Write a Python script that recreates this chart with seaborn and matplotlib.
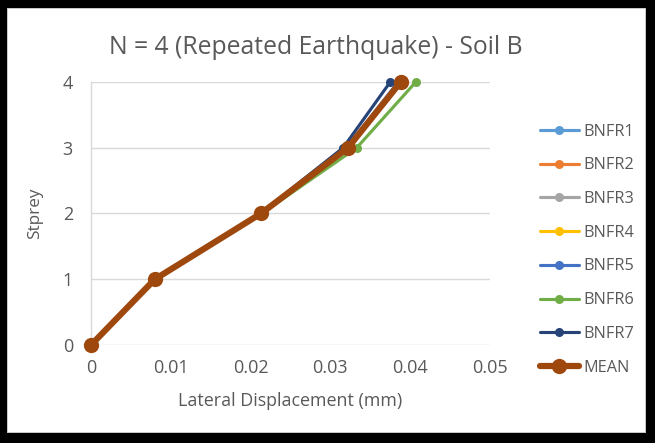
import matplotlib
matplotlib.use("Agg")
import matplotlib.pyplot as plt
import seaborn as sns
import pandas as pd
from matplotlib.patches import Rectangle
from matplotlib.lines import Line2D

stories = [0, 1, 2, 3, 4]
series_names = ["BNFR1", "BNFR2", "BNFR3", "BNFR4", "BNFR5", "BNFR6", "BNFR7", "MEAN"]
BNFR1 = [0, 0.0080, 0.0213, 0.0322, 0.0388]
BNFR2 = [0, 0.0080, 0.0213, 0.0321, 0.0386]
BNFR3 = [0, 0.0080, 0.0213, 0.0323, 0.0390]
BNFR4 = [0, 0.0080, 0.0213, 0.0322, 0.0389]
BNFR5 = [0, 0.0080, 0.0213, 0.0320, 0.0385]
BNFR6 = [0, 0.0081, 0.0214, 0.0333, 0.0407]
BNFR7 = [0, 0.0080, 0.0212, 0.0316, 0.0375]
MEAN = [0, 0.0080, 0.0213, 0.0322, 0.0388]
values = [BNFR1, BNFR2, BNFR3, BNFR4, BNFR5, BNFR6, BNFR7, MEAN]
colors = ["#5B9BD5", "#ED7D31", "#A5A5A5", "#FFC000", "#4472C4", "#70AD47", "#264478", "#9E480E"]
x_ticks = [0, 0.01, 0.02, 0.03, 0.04, 0.05]
x_tick_labels = ["0", "0.01", "0.02", "0.03", "0.04", "0.05"]
y_ticks = [0, 1, 2, 3, 4]

rows = []
for name, vals in zip(series_names, values):
    for s, v in zip(stories, vals):
        rows.append({"series": name, "story": s, "disp": v})
df = pd.DataFrame(rows)

sns.set_theme(style="white")
plt.rcParams["font.family"] = ["Open Sans", "DejaVu Sans"]

W, H = 655, 443
fig = plt.figure(figsize=(W / 100, H / 100), dpi=100)
ax = fig.add_axes([91/W, 1-345/H, (490-91)/W, (345-82)/H])

txt = "#595959"
palette = dict(zip(series_names, colors))
for name in series_names:
    sub = df[df.series == name]
    is_mean = name == "MEAN"
    sns.lineplot(data=sub, x="disp", y="story", sort=False, ax=ax,
                 color=palette[name], linewidth=4.5 if is_mean else 2.25,
                 marker="o", markersize=11 if is_mean else 6.5,
                 markeredgewidth=0, legend=False, zorder=5 if is_mean else 3)

ax.set_xlim(0, 0.05)
ax.set_ylim(0, 4)
ax.set_xticks(x_ticks)
ax.set_xticklabels(x_tick_labels)
ax.set_yticks(y_ticks)
ax.grid(axis="y", color="#D9D9D9", linewidth=1)
ax.grid(axis="x", visible=False)
for sp in ["top", "right", "bottom"]:
    ax.spines[sp].set_visible(False)
ax.spines["left"].set_color("#D9D9D9")
ax.spines["left"].set_linewidth(1)
ax.tick_params(axis="x", colors=txt, labelsize=13, length=0, pad=10)
ax.tick_params(axis="y", colors=txt, labelsize=13, length=0, pad=13)
for lab in ax.get_xticklabels() + ax.get_yticklabels():
    lab.set_color(txt)
ax.set_xlabel("Lateral Displacement (mm)", color=txt, fontsize=12.9, labelpad=11)
ax.set_ylabel("Stprey", color=txt, fontsize=12.3, labelpad=14)
for c in ax.collections + ax.lines:
    c.set_clip_on(False)

fig.text((110 + 522) / 2 / W, 1 - 48/H, "N = 4 (Repeated Earthquake) - Soil B",
         ha="center", va="center", fontsize=17.8, color=txt)

handles = []
for name, col in zip(series_names, colors):
    is_mean = name == "MEAN"
    handles.append(Line2D([0], [0], color=col, linewidth=4.5 if is_mean else 2.25,
                          marker="o", markersize=11 if is_mean else 6.5, markeredgewidth=0))
leg = fig.legend(handles, series_names, loc="upper left",
                 bbox_to_anchor=(525/W, 1 - 109/H), frameon=False,
                 fontsize=11.7, labelspacing=1.09, handlelength=2.4, handletextpad=0.3)
for t in leg.get_texts():
    t.set_color(txt)

# thick black frame around the image (px: left 7, top 8, right 9, bottom 10)
L, T, R, B = 7, 8, 9, 10
# thin gray inner edge
fig.patches.append(Rectangle((L/W, B/H), 1 - (L+R)/W, 1 - (T+B)/H,
                             transform=fig.transFigure, fill=False,
                             edgecolor="#BFBFBF", linewidth=1.2, zorder=9))
for (x0, y0, w, h) in [(0, 0, L, H), (W - R, 0, R, H), (0, H - T, W, T), (0, 0, W, B)]:
    fig.patches.append(Rectangle((x0/W, y0/H), w/W, h/H, transform=fig.transFigure,
                                 facecolor="black", edgecolor="none", zorder=10))

fig.savefig("out.png", dpi=100)
